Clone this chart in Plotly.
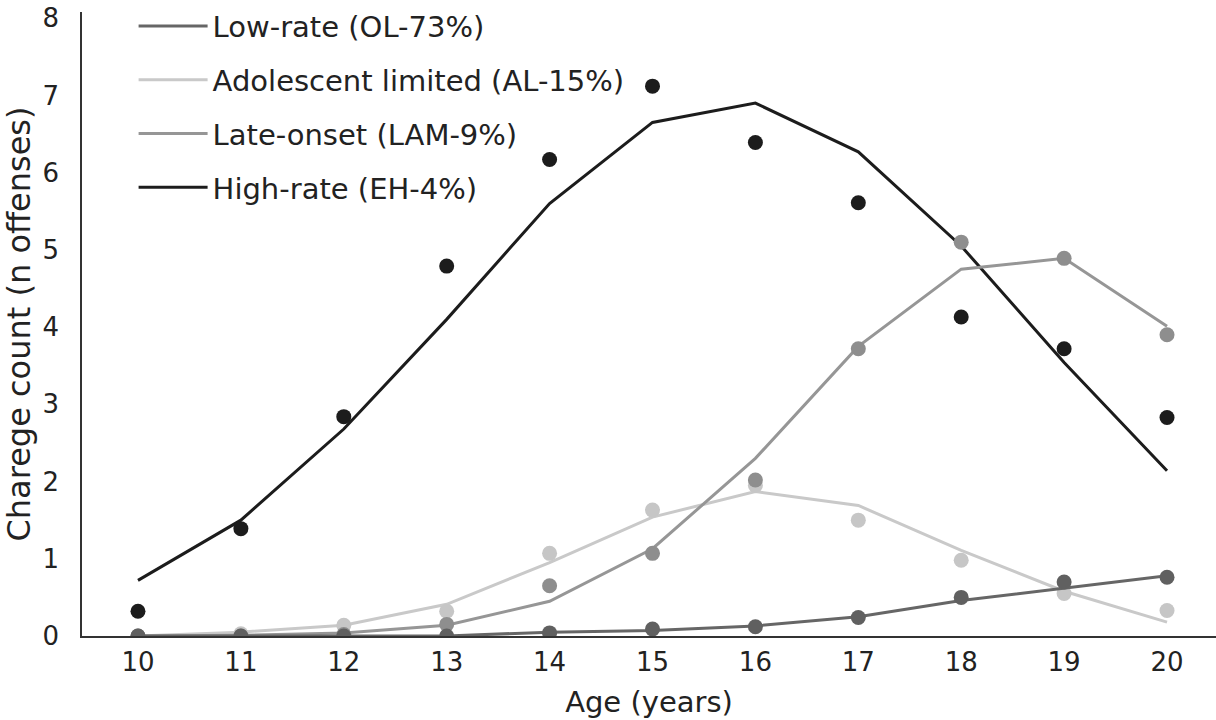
import plotly.graph_objects as go

ages = [10, 11, 12, 13, 14, 15, 16, 17, 18, 19, 20]

names = ["Low-rate (OL-73%)", "Adolescent limited (AL-15%)", "Late-onset (LAM-9%)", "High-rate (EH-4%)"]

# fitted trajectories (lines)
low_fit = [0.0, 0.0, 0.0, 0.0, 0.05, 0.07, 0.13, 0.25, 0.46, 0.62, 0.78]
al_fit = [0.0, 0.05, 0.14, 0.41, 0.95, 1.54, 1.87, 1.69, 1.11, 0.58, 0.18]
lam_fit = [0.0, 0.01, 0.04, 0.14, 0.45, 1.13, 2.30, 3.75, 4.75, 4.89, 4.01]
high_fit = [0.72, 1.50, 2.68, 4.10, 5.60, 6.65, 6.90, 6.27, 5.05, 3.54, 2.14]

# observed means (points)
low_obs = [0.0, 0.0, 0.0, 0.0, 0.04, 0.09, 0.12, 0.24, 0.50, 0.70, 0.76]
al_obs = [0.0, 0.03, 0.14, 0.32, 1.07, 1.63, 1.95, 1.50, 0.98, 0.55, 0.33]
lam_obs = [0.0, 0.0, 0.02, 0.15, 0.65, 1.07, 2.02, 3.72, 5.10, 4.89, 3.90]
high_obs = [0.32, 1.39, 2.84, 4.79, 6.17, 7.12, 6.39, 5.61, 4.13, 3.72, 2.83]

y_ticks = [0, 1, 2, 3, 4, 5, 6, 7, 8]

line_colors = ["#666666", "#c9c9c9", "#969696", "#1c1c1c"]
point_colors = ["#606060", "#c6c6c6", "#8e8e8e", "#1c1c1c"]

fits = [low_fit, al_fit, lam_fit, high_fit]
obs = [low_obs, al_obs, lam_obs, high_obs]

fig = go.Figure()
order = [3, 1, 2, 0]
for i in order:
    fig.add_trace(go.Scatter(
        x=ages, y=fits[i], mode="lines", name=names[i],
        line=dict(color=line_colors[i], width=3),
        legendrank=i + 1, legendgroup=str(i),
    ))
    fig.add_trace(go.Scatter(
        x=ages, y=obs[i], mode="markers", showlegend=False,
        marker=dict(color=point_colors[i], size=15),
        legendgroup=str(i),
    ))

font_family = "DejaVu Sans, sans-serif"
fig.update_layout(
    width=1216, height=720,
    margin=dict(l=82, r=0, t=12, b=84, autoexpand=False),
    paper_bgcolor="white", plot_bgcolor="white",
    font=dict(family=font_family, size=26, color="#222222"),
    showlegend=True,
    legend=dict(
        x=0.0455, y=1.018, xanchor="left", yanchor="top",
        bgcolor="rgba(0,0,0,0)", font=dict(size=29, color="#222222"),
        tracegroupgap=13, itemwidth=69,
    ),
    xaxis=dict(
        range=[9.456, 20.476], tickmode="array", tickvals=ages,
        showgrid=False, zeroline=False, showline=True,
        linecolor="#333333", linewidth=1.5, ticks="",
        ticklabelstandoff=2, tickfont=dict(size=26),
        title=dict(text="Age (years)", standoff=16, font=dict(size=29)),
    ),
    yaxis=dict(
        range=[0, 8.08], tickmode="array", tickvals=y_ticks,
        showgrid=False, zeroline=False, showline=True,
        linecolor="#333333", linewidth=1.5, ticks="",
        ticklabelstandoff=16, tickfont=dict(size=26),
        title=dict(text="Charege count (n offenses)", standoff=6, font=dict(size=32)),
    ),
)

fig.write_html("out.html", post_script="document.body.style.margin='0';",
               config={"displayModeBar": False})
